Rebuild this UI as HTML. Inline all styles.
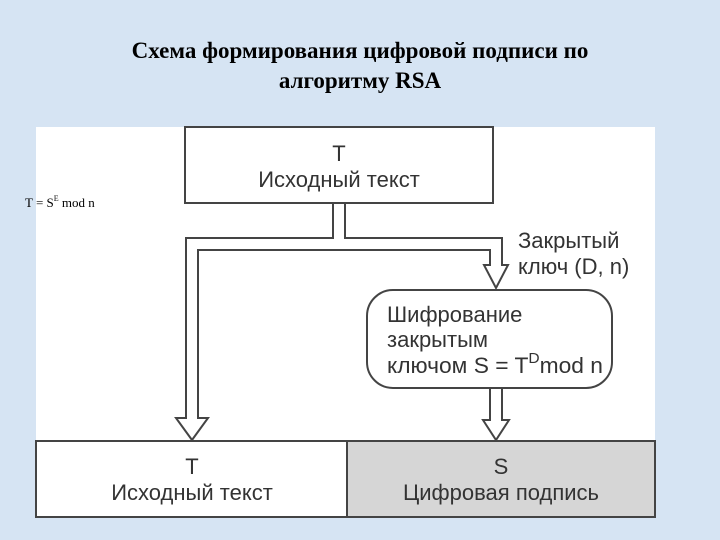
<!DOCTYPE html>
<html><head><meta charset="utf-8"><style>
html,body{margin:0;padding:0}
body{width:720px;height:540px;background:#d6e4f3;position:relative;overflow:hidden;font-family:"Liberation Sans",sans-serif}
.title{position:absolute;left:0;width:720px;top:36px;text-align:center;font-family:"Liberation Serif",serif;font-weight:bold;font-size:23px;line-height:30px;color:#000}
svg{position:absolute;left:0;top:0}
</style></head><body>
<div class="title">Схема формирования цифровой подписи по<br>алгоритму RSA</div>
<svg width="720" height="540" viewBox="0 0 720 540">
<rect x="36" y="127" width="619" height="314" fill="#fff"/>
<g stroke="#444" stroke-width="2" fill="none">
<rect x="185" y="127" width="308" height="76" fill="#fff"/>
<path d="M333 203 V238 H186 V418 H176 L192 440 L208 418 H198 V250 H490 V265 H484 L496 288 L508 265 H502 V238 H345 V203"/>
<rect x="367" y="290" width="245" height="98" rx="26" fill="#fff"/>
<path d="M490 388 V420 H483 L496 440 L509 420 H502 V388"/>
<rect x="36" y="441" width="311" height="76" fill="#fff"/>
<rect x="347" y="441" width="308" height="76" fill="#d6d6d6"/>
</g>
<g font-family="Liberation Sans, sans-serif" font-size="22" fill="#333" text-anchor="middle">
<text x="339" y="161">T</text>
<text x="339" y="187">Исходный текст</text>
<text x="192" y="474">T</text>
<text x="192" y="500">Исходный текст</text>
<text x="501" y="474">S</text>
<text x="501" y="500">Цифровая подпись</text>
</g>
<g font-family="Liberation Sans, sans-serif" font-size="22" fill="#333">
<text x="518" y="248">Закрытый</text>
<text x="518" y="274">ключ (D, n)</text>
<text x="387" y="322">Шифрование</text>
<text x="387" y="347">закрытым</text>
<text x="387" y="373" textLength="216" lengthAdjust="spacingAndGlyphs">ключом S = T<tspan font-size="15" dy="-10">D</tspan><tspan dy="10">mod n</tspan></text>
</g>
<text x="25" y="207" font-family="Liberation Serif, serif" font-size="13" fill="#000">T = S<tspan font-size="8" dy="-6">E</tspan><tspan dy="6"> mod n</tspan></text>
</svg>
</body></html>
